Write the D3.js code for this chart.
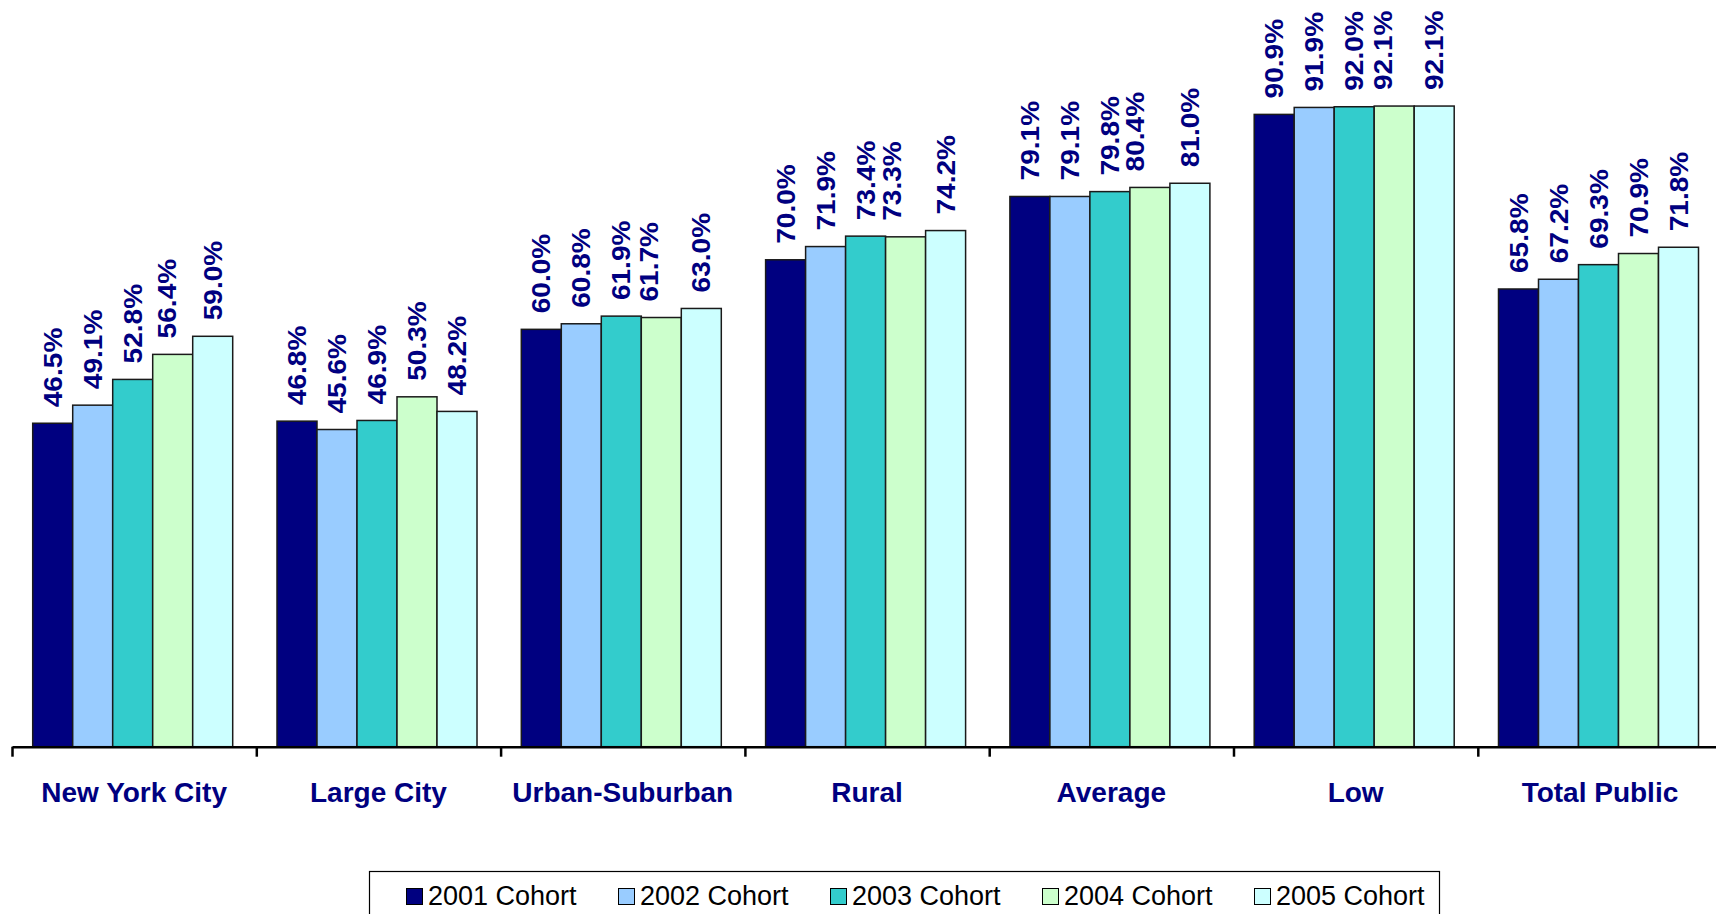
<!DOCTYPE html>
<html>
<head>
<meta charset="utf-8">
<script src="https://cdn.jsdelivr.net/npm/d3@7"></script>
<style>
  html, body { margin: 0; padding: 0; background: #fff; overflow: hidden; }
  svg { display: block; font-family: "Liberation Sans", Arial, sans-serif; }
</style>
</head>
<body>
<div class="chart"></div>
<script>
const width = 1716;
const height = 914;

const categories = ["New York City", "Large City", "Urban-Suburban", "Rural", "Average", "Low", "Total Public"];
const cohorts = ["2001 Cohort", "2002 Cohort", "2003 Cohort", "2004 Cohort", "2005 Cohort"];
const colors = ["#000080", "#99ccff", "#33cccc", "#ccffcc", "#ccffff"];

const c2001 = [46.5, 46.8, 60.0, 70.0, 79.1, 90.9, 65.8];
const c2002 = [49.1, 45.6, 60.8, 71.9, 79.1, 91.9, 67.2];
const c2003 = [52.8, 46.9, 61.9, 73.4, 79.8, 92.0, 69.3];
const c2004 = [56.4, 50.3, 61.7, 73.3, 80.4, 92.1, 70.9];
const c2005 = [59.0, 48.2, 63.0, 74.2, 81.0, 92.1, 71.8];

const series = [c2001, c2002, c2003, c2004, c2005];

// excel pushed some 2004 labels left where they collided
const nudge2004 = {"New York City": -6, "Urban-Suburban": -12, "Rural": -14, "Average": -15, "Low": -11};

const left = 12;
const band = 244.3;
const base = 746.7;

const svg = d3.select(".chart").append("svg").attr("width", width).attr("height", height);

const x0 = d3.scaleBand().domain(categories).range([left, left + band * categories.length]);
const x1 = d3.scaleBand().domain(cohorts).range([20.7, 220.7]);
const y = d3.scaleLinear().domain([0, 100]).range([base, base - 695.6]);

let rows = [];
categories.forEach((cat, i) => {
    cohorts.forEach((co, j) => {
        rows.push({cat: cat, cohort: co, value: series[j][i], color: colors[j]});
    });
});

const g = svg.append("g");

g.selectAll("rect.bar").data(rows).enter().append("rect")
    .attr("class", "bar")
    .attr("x", d => x0(d.cat) + x1(d.cohort))
    .attr("y", d => y(d.value))
    .attr("width", x1.bandwidth())
    .attr("height", d => y(0) - y(d.value))
    .attr("fill", d => d.color)
    .attr("stroke", "#1a1a1a")
    .attr("stroke-width", 1.5);

g.selectAll("text.lbl").data(rows).enter().append("text")
    .attr("class", "lbl")
    .attr("transform", d => {
        let cx = x0(d.cat) + x1(d.cohort) + x1.bandwidth() / 2;
        if (d.cohort == "2004 Cohort" && nudge2004[d.cat]) cx += nudge2004[d.cat];
        return "translate(" + cx + "," + (y(d.value) - 16) + ") rotate(-90) scale(1.08,1)";
    })
    .attr("dy", "0.35em")
    .attr("text-anchor", "start")
    .attr("fill", "#000080")
    .attr("font-weight", "bold")
    .attr("font-size", "26px")
    .text(d => d.value.toFixed(1) + "%");

// axis with ticks between the groups
const xi = d3.scaleLinear().domain([0, categories.length]).range([left, left + band * categories.length]);
const axis = svg.append("g").attr("transform", "translate(0," + base + ")")
    .call(d3.axisBottom(xi).tickValues(d3.range(categories.length + 1)).tickFormat("").tickSize(10).tickSizeOuter(0));
axis.select(".domain").attr("stroke", "#000").attr("stroke-width", 2.5);
axis.selectAll(".tick line").attr("stroke", "#000").attr("stroke-width", 2.5);

svg.selectAll("text.cat").data(categories).enter().append("text")
    .attr("class", "cat")
    .attr("x", d => x0(d) + x0.bandwidth() / 2)
    .attr("y", 801.7)
    .attr("text-anchor", "middle")
    .attr("fill", "#000080")
    .attr("font-weight", "bold")
    .attr("font-size", "28px")
    .text(d => d);

// legend
const legend = svg.append("g");
legend.append("rect")
    .attr("x", 369.5).attr("y", 871.5)
    .attr("width", 1070).attr("height", 80)
    .attr("fill", "#fff").attr("stroke", "#000").attr("stroke-width", 1.2);

const item = legend.selectAll("g.item").data(cohorts).enter().append("g")
    .attr("class", "item")
    .attr("transform", (d, i) => "translate(" + (406 + i * 212) + ",0)");

item.append("rect")
    .attr("x", 0.5).attr("y", 888.5)
    .attr("width", 16).attr("height", 16)
    .attr("fill", (d, i) => colors[i])
    .attr("stroke", "#000").attr("stroke-width", 1);

item.append("text")
    .attr("x", 22).attr("y", 905)
    .attr("font-size", "27px")
    .attr("fill", "#000")
    .text(d => d);
</script>
</body>
</html>
